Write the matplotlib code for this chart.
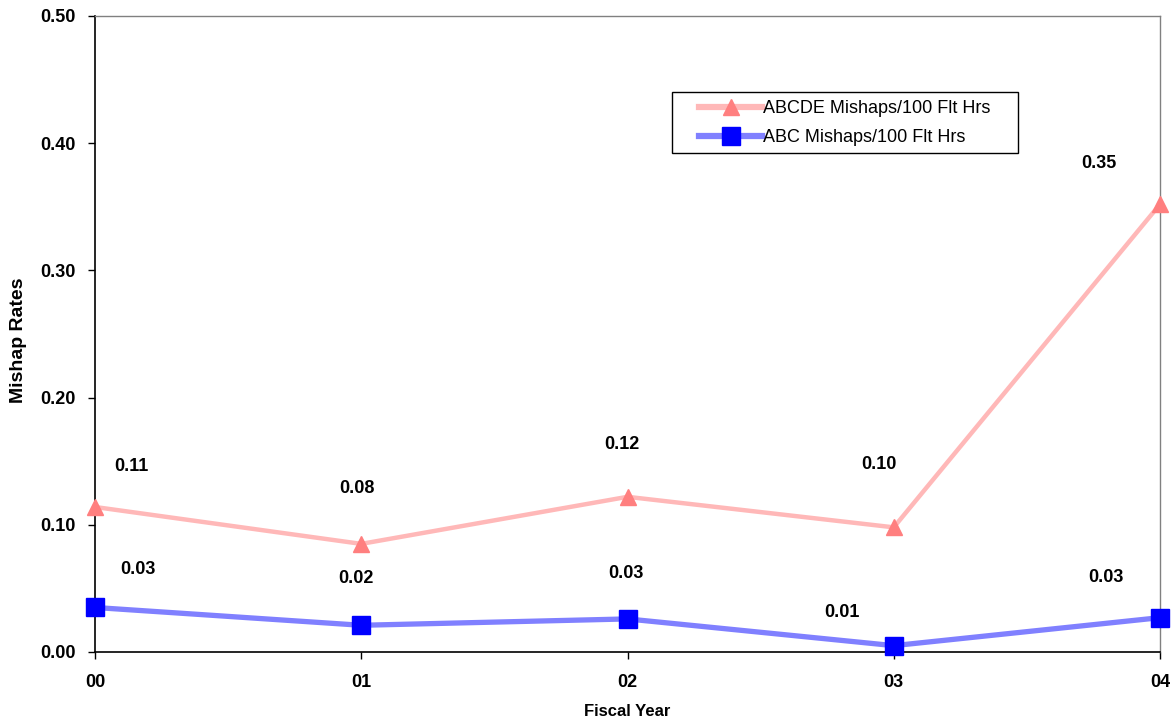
import matplotlib
matplotlib.use("Agg")
import matplotlib.pyplot as plt
from matplotlib.patches import Rectangle

plt.rcParams["font.family"] = ["Liberation Sans", "DejaVu Sans"]

years = ["00", "01", "02", "03", "04"]
abcde_rates = [0.114, 0.085, 0.122, 0.098, 0.352]
abc_rates = [0.035, 0.021, 0.026, 0.005, 0.027]
abcde_labels = ["0.11", "0.08", "0.12", "0.10", "0.35"]
abc_labels = ["0.03", "0.02", "0.03", "0.01", "0.03"]

# label offsets in points (from the marker)
abcde_off = [(26, 29), (-3, 40), (-4, 38), (-11, 45), (-44, 29)]
abc_off = [(31, 27), (-4, 34), (-1, 33), (-37, 24), (-39, 29)]

W, H = 1173, 723
fig = plt.figure(figsize=(W / 100, H / 100), dpi=100)
ax = fig.add_axes([95 / W, 1 - 652 / H, (1160 - 95) / W, (652 - 16) / H])

x = list(range(len(years)))
ax.plot(x, abcde_rates, color="#FFB8B8", linewidth=3.2, marker="^",
        markersize=12, markerfacecolor="#FF7F7F", markeredgecolor="#FF7F7F",
        label="ABCDE Mishaps/100 Flt Hrs", clip_on=False, zorder=3)
ax.plot(x, abc_rates, color="#8080FF", linewidth=3.8, marker="s",
        markersize=13, markerfacecolor="#0000FF", markeredgecolor="#0000FF",
        label="ABC Mishaps/100 Flt Hrs", clip_on=False, zorder=4)

for i in x:
    ax.annotate(abcde_labels[i], (i, abcde_rates[i]), xytext=abcde_off[i],
                textcoords="offset points", ha="center", va="center",
                fontsize=13, fontweight="bold")
    ax.annotate(abc_labels[i], (i, abc_rates[i]), xytext=abc_off[i],
                textcoords="offset points", ha="center", va="center",
                fontsize=13, fontweight="bold")

ax.set_xlim(0, 4)
ax.set_ylim(0, 0.5)
ax.set_xticks(x)
ax.set_xticklabels(years, fontsize=13, fontweight="bold")
ax.set_yticks([0, 0.1, 0.2, 0.3, 0.4, 0.5])
ax.set_yticklabels(["0.00", "0.10", "0.20", "0.30", "0.40", "0.50"],
                   fontsize=13, fontweight="bold")
ax.tick_params(axis="both", direction="out", length=5, width=1, color="black")
ax.tick_params(axis="x", pad=11)
ax.tick_params(axis="y", pad=9)

for side in ["left", "bottom"]:
    ax.spines[side].set_color("black")
    ax.spines[side].set_linewidth(1.2)
for side in ["top", "right"]:
    ax.spines[side].set_color("#808080")
    ax.spines[side].set_linewidth(1.0)

ax.set_xlabel("Fiscal Year", fontsize=12, fontweight="bold")
ax.set_ylabel("Mishap Rates", fontsize=14, fontweight="bold")
ax.xaxis.set_label_coords(0.5, (652 - 712) / 636)
ax.yaxis.set_label_coords((19 - 95) / 1065, (652 - 340) / 636)
ax.xaxis.label.set_va("center")
ax.yaxis.label.set_va("center")

# legend frame drawn separately to get the wide padding of the original
ax.add_patch(Rectangle((672 / W, 1 - 153 / H), (1018 - 672) / W, (153 - 92) / H,
                       transform=fig.transFigure, facecolor="white",
                       edgecolor="black", linewidth=1.0, zorder=5, clip_on=False))
leg = ax.legend(loc="upper left", bbox_to_anchor=(699 / W, 1 - 100 / H),
                bbox_transform=fig.transFigure,
                fontsize=13, frameon=False, handlelength=3.5,
                borderaxespad=0, borderpad=0, labelspacing=0.68, handletextpad=0.05)
leg.set_zorder(6)
for line in leg.get_lines():
    line.set_linewidth(4.5)

fig.savefig("out.png", dpi=100)
